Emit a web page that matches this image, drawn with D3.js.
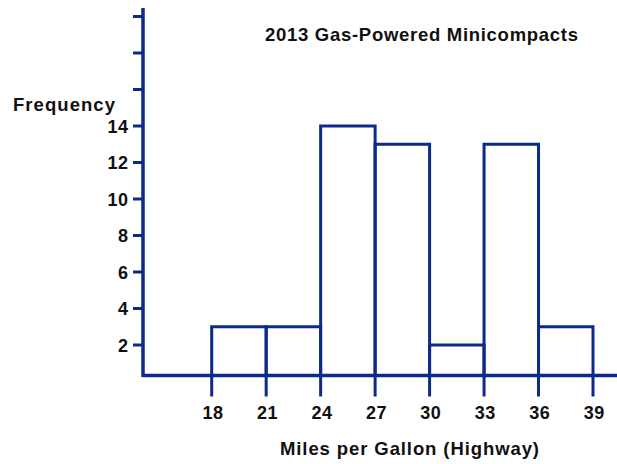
<!DOCTYPE html>
<html><head><meta charset="utf-8">
<script src="https://cdn.jsdelivr.net/npm/d3@7"></script>
<style>body{margin:0;background:#fff}text{font-family:"Liberation Sans",Arial,Helvetica,sans-serif;font-weight:bold;fill:#111}</style>
</head><body><svg id="c" width="617" height="464"></svg>
<script>
const binStarts = [18, 21, 24, 27, 30, 33, 36];
const binWidth = 3;
const frequencies = [3, 3, 14, 13, 2, 13, 3];
const xTickValues = [18, 21, 24, 27, 30, 33, 36, 39];
const yTickValues = [2, 4, 6, 8, 10, 12, 14, 16, 18, 20];
const yLabeledTicks = [2, 4, 6, 8, 10, 12, 14];
const title = "2013 Gas-Powered Minicompacts";
const xTitle = "Miles per Gallon (Highway)";
const yTitle = "Frequency";

const blue = "#0c2a8a";
const svg = d3.select("#c");
const x = d3.scaleLinear().domain([18, 39]).range([211.7, 593]);
const y = d3.scaleLinear().domain([0, 20]).range([381.5, 16.5]);
const axisX = 143, baseY = 375.5;

// bars
svg.append("g").selectAll("rect").data(frequencies).join("rect")
  .attr("x", (d,i) => x(binStarts[i]))
  .attr("width", (d,i) => x(binStarts[i] + binWidth) - x(binStarts[i]))
  .attr("y", d => y(d))
  .attr("height", d => baseY - y(d))
  .attr("fill", "none").attr("stroke", blue).attr("stroke-width", 3);

// x axis
const gx = svg.append("g").attr("transform", `translate(0,${baseY})`);
gx.append("line").attr("x1", axisX).attr("x2", 617).attr("stroke", blue).attr("stroke-width", 3.5);
gx.selectAll("line.t").data(xTickValues).join("line").attr("class","t")
  .attr("x1", d => x(d)).attr("x2", d => x(d)).attr("y1", 0).attr("y2", 21)
  .attr("stroke", blue).attr("stroke-width", 3);
gx.selectAll("text").data(xTickValues).join("text")
  .attr("x", d => x(d) + 1.3).attr("y", 43.5).attr("text-anchor", "middle")
  .attr("font-size", 18).attr("letter-spacing", 0.5).text(d => d);

// y axis
const gy = svg.append("g").attr("transform", `translate(${axisX},0)`);
gy.append("line").attr("y1", 8).attr("y2", baseY + 1.5).attr("stroke", blue).attr("stroke-width", 3.5);
gy.selectAll("line.t").data(yTickValues).join("line").attr("class","t")
  .attr("x1", -10).attr("x2", 0).attr("y1", d => y(d)).attr("y2", d => y(d))
  .attr("stroke", blue).attr("stroke-width", 3);
gy.selectAll("text").data(yLabeledTicks).join("text")
  .attr("x", -14.5).attr("y", d => y(d) + 6.5).attr("text-anchor", "end")
  .attr("font-size", 18).attr("letter-spacing", 0.5).text(d => d);

svg.append("text").attr("x", 265).attr("y", 41).attr("font-size", 18.5)
  .attr("textLength", 313).attr("lengthAdjust", "spacing").text(title);
svg.append("text").attr("x", 280).attr("y", 455).attr("font-size", 18.5)
  .attr("textLength", 259).attr("lengthAdjust", "spacing").text(xTitle);
svg.append("text").attr("x", 13).attr("y", 111).attr("font-size", 18.5)
  .attr("textLength", 102).attr("lengthAdjust", "spacing").text(yTitle);
</script></body></html>
